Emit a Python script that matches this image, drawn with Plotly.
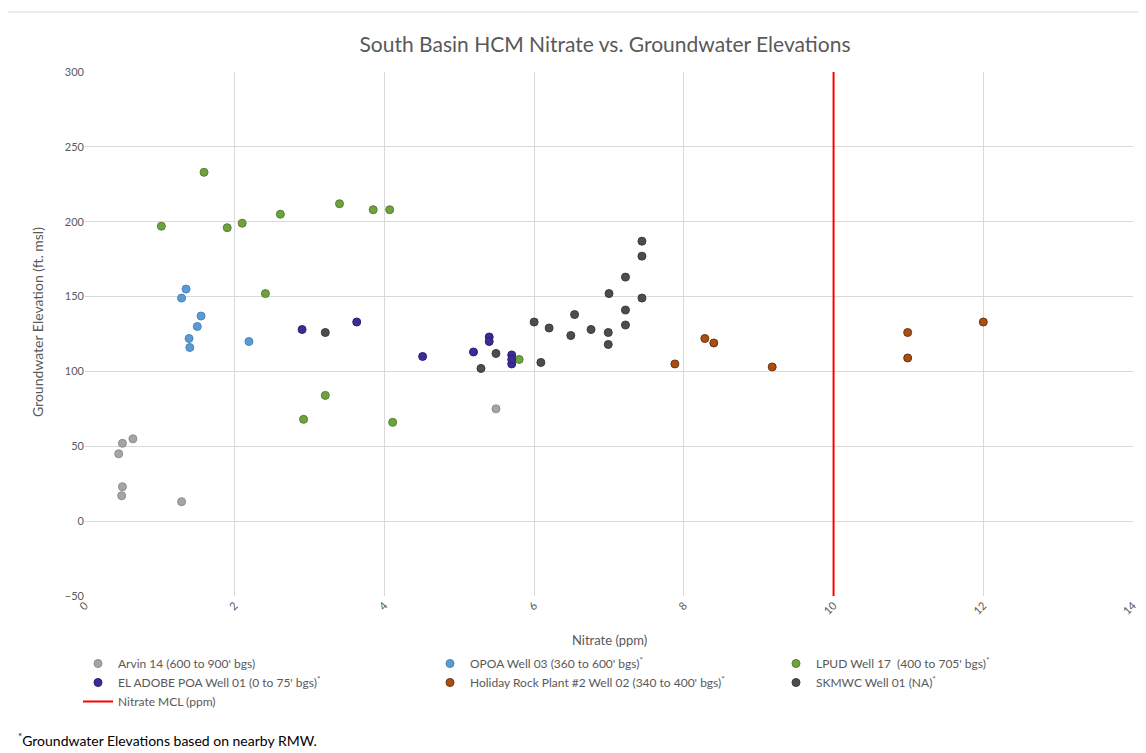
import plotly.graph_objects as go

# ---- data ----
arvin_x = [0.45, 0.50, 0.64, 0.50, 0.49, 1.29, 5.49]
arvin_y = [45, 52, 55, 23, 17, 13, 75]

opoa_x = [1.35, 1.29, 1.55, 1.50, 1.39, 1.40, 2.19]
opoa_y = [155, 149, 137, 130, 122, 116, 120]

lpud_x = [1.02, 1.59, 1.90, 2.10, 2.61, 2.41, 3.40, 3.85, 4.07, 3.21, 2.92, 4.11, 5.80]
lpud_y = [197, 233, 196, 199, 205, 152, 212, 208, 208, 84, 68, 66, 108]

adobe_x = [2.90, 3.63, 4.51, 5.19, 5.40, 5.40, 5.70, 5.70, 5.70]
adobe_y = [128, 133, 110, 113, 123, 120, 111, 105, 108]

holiday_x = [7.88, 8.28, 8.40, 9.18, 10.99, 10.99, 12.00]
holiday_y = [105, 122, 119, 103, 126, 109, 133]

skmwc_x = [3.21, 5.29, 5.49, 6.00, 6.09, 6.20, 6.49, 6.54, 6.76, 6.99, 6.99, 7.00,
           7.22, 7.22, 7.22, 7.44, 7.44, 7.44]
skmwc_y = [126, 102, 112, 133, 106, 129, 124, 138, 128, 126, 118, 152,
           163, 141, 131, 187, 177, 149]

mcl_x = [10, 10]
mcl_y = [-50, 300]

x_ticks = [0, 2, 4, 6, 8, 10, 12, 14]
y_ticks = [-50, 0, 50, 100, 150, 200, 250, 300]

names = {
    "arvin": "Arvin 14 (600 to 900' bgs)",
    "opoa": "OPOA Well 03 (360 to 600' bgs)<sup>*</sup>",
    "lpud": "LPUD Well 17  (400 to 705' bgs)<sup>*</sup>",
    "adobe": "EL ADOBE POA Well 01 (0 to 75' bgs)<sup>*</sup>",
    "holiday": "Holiday Rock Plant #2 Well 02 (340 to 400' bgs)<sup>*</sup>",
    "skmwc": "SKMWC Well 01 (NA)<sup>*</sup>",
    "mcl": "Nitrate MCL (ppm)",
}
x_title = "Nitrate (ppm)"
y_title = "Groundwater Elevation (ft. msl)"

FONT = "Lato, 'Open Sans', sans-serif"
TXT = "#595959"

fig = go.Figure()

def pts(x, y, name, color, line_color, legend):
    fig.add_trace(go.Scatter(
        x=x, y=y, mode="markers", name=name, legend=legend,
        marker=dict(size=8, color=color, line=dict(width=1, color=line_color)),
    ))

pts(arvin_x, arvin_y, names["arvin"], "#a5a5a5", "#8c8c8c", "legend")
pts(opoa_x, opoa_y, names["opoa"], "#5b9bd5", "#4a84ba", "legend2")
pts(lpud_x, lpud_y, names["lpud"], "#6ea23f", "#587f33", "legend3")
pts(adobe_x, adobe_y, names["adobe"], "#3a2d96", "#2a2070", "legend")
pts(holiday_x, holiday_y, names["holiday"], "#a94f12", "#6e3410", "legend2")
pts(skmwc_x, skmwc_y, names["skmwc"], "#4d4d4d", "#3a3a3a", "legend3")

fig.add_trace(go.Scatter(
    x=mcl_x, y=mcl_y, mode="lines", name=names["mcl"], legend="legend",
    line=dict(color="#ff0000", width=2),
))

leg_common = dict(
    orientation="v", xref="container", yref="container",
    xanchor="left", yanchor="top",
    font=dict(family=FONT, size=12, color=TXT),
    bgcolor="rgba(0,0,0,0)", tracegroupgap=0,
)

fig.update_layout(
    width=1146, height=753,
    margin=dict(l=77, r=21, t=64, b=165, autoexpand=False),
    paper_bgcolor="white", plot_bgcolor="white",
    font=dict(family=FONT, color=TXT),
    title=dict(
        text="South Basin HCM Nitrate vs. Groundwater Elevations",
        x=597 / 1146, xanchor="center", y=1 - 37 / 753, yanchor="middle",
        font=dict(family=FONT, size=21, color=TXT),
    ),
    showlegend=True,
    legend=dict(x=70 / 1146, y=1 - 641 / 753, **leg_common),
    legend2=dict(x=422 / 1146, y=1 - 641 / 753, **leg_common),
    legend3=dict(x=768 / 1146, y=1 - 641 / 753, **leg_common),
    xaxis=dict(
        range=[0, 14], tickvals=x_ticks, ticktext=[str(v) for v in x_ticks],
        tickangle=-45, showgrid=True, gridcolor="#d9d9d9", gridwidth=1,
        zeroline=False, showline=False, ticks="", automargin=False,
        ticklabeloverflow="allow",
        tickfont=dict(family=FONT, size=11, color=TXT),
    ),
    yaxis=dict(
        range=[-50, 300], tickvals=y_ticks, showgrid=True, gridcolor="#d9d9d9",
        gridwidth=1, zeroline=False, showline=False, ticks="", automargin=False,
        tickfont=dict(family=FONT, size=11, color=TXT),
    ),
)

# axis titles
fig.add_annotation(
    text=x_title, xref="paper", yref="paper",
    x=(609 - 85) / 1048, y=(596 - 640) / 524,
    xanchor="center", yanchor="middle", showarrow=False,
    font=dict(family=FONT, size=13, color=TXT),
)
fig.add_annotation(
    text=y_title, xref="paper", yref="paper",
    x=(37 - 85) / 1048, y=(596 - 322) / 524, textangle=-90,
    xanchor="center", yanchor="middle", showarrow=False,
    font=dict(family=FONT, size=14, color=TXT),
)

# faint chart-area border (left and top edges)
fig.add_shape(type="line", xref="paper", yref="paper",
              x0=(5 - 85) / 1048, x1=(5 - 85) / 1048,
              y0=(596 - 667) / 524, y1=(596 - 12) / 524,
              line=dict(color="#d9d9d9", width=1))
fig.add_shape(type="line", xref="paper", yref="paper",
              x0=(5 - 85) / 1048, x1=(1141 - 85) / 1048,
              y0=(596 - 12) / 524, y1=(596 - 12) / 524,
              line=dict(color="#d9d9d9", width=1))

fig.add_annotation(
    text="<sup>*</sup>Groundwater Elevations based on nearby RMW.",
    xref="paper", yref="paper", x=(16 - 85) / 1048, y=(596 - 739) / 524,
    xanchor="left", yanchor="middle", showarrow=False,
    font=dict(family=FONT, size=14, color="#000000"),
)

fig.write_html("out.html")
